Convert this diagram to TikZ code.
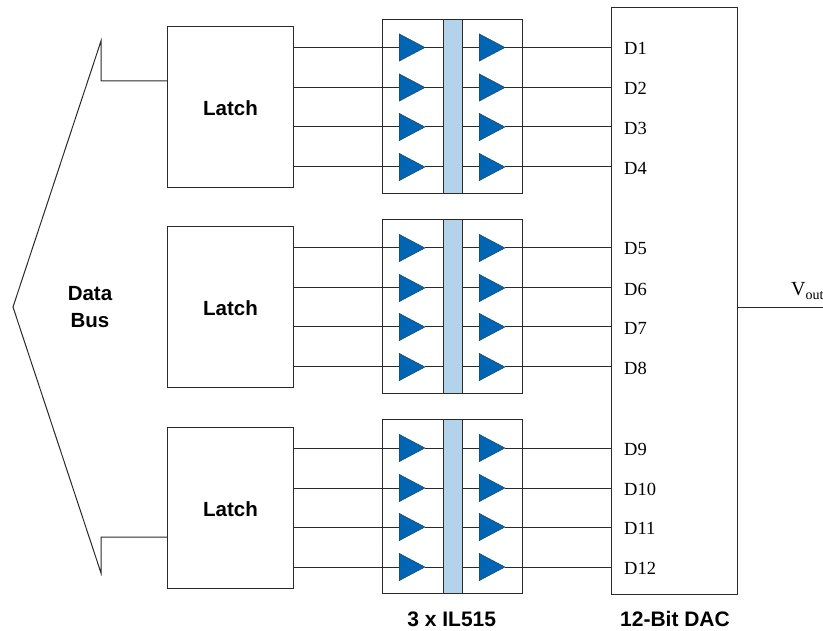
\documentclass[tikz,border=0pt]{standalone}
\usepackage{fontspec}
\setmainfont{Liberation Serif}
\setsansfont{Liberation Sans}
\usetikzlibrary{shapes.geometric}
\definecolor{buf}{HTML}{0066B3}
\definecolor{barc}{HTML}{B2D3EA}
\definecolor{ink}{HTML}{2A2A2A}
\tikzset{
  wire/.style={draw=ink,line width=1pt},
  block/.style={draw=ink,line width=1pt,fill=none,inner sep=0pt,rectangle,anchor=north west},
  barbox/.style={draw=ink,line width=1pt,fill=barc,inner sep=0pt,rectangle,anchor=north west,minimum width=19.5pt},
  buffer/.style={isosceles triangle,isosceles triangle apex angle=60,isosceles triangle stretches,
    minimum width=27.5pt,minimum height=26pt,inner sep=0pt,fill=buf,draw=ink,line width=0.25pt,anchor=west},
  boldlabel/.style={font=\sffamily\bfseries\fontsize{20.5}{26.5}\selectfont,inner sep=0pt,align=center},
  caplabel/.style={font=\sffamily\bfseries\fontsize{21}{24}\selectfont,inner sep=0pt},
  pinlabel/.style={font=\fontsize{18.5}{22}\selectfont,inner sep=0pt,anchor=west},
}
\begin{document}
\begin{tikzpicture}[x=1pt,y=-1pt]
\useasboundingbox (0,0) rectangle (823,631);
\node[block,minimum width=125.5pt,minimum height=587pt] (dac) at (611.2,7.2) {};
% block 1
\node[block,minimum width=126pt,minimum height=161pt] (latchA) at (167,26.5) {};
\node[boldlabel] (latchAt) at (230.5,108) {Latch};
\node[block,minimum width=140pt,minimum height=174pt] (ilA) at (382,18.7) {};
\node[barbox,minimum height=174pt] (barA) at (442.5,18.7) {};
% block 2
\node[block,minimum width=126pt,minimum height=161pt] (latchB) at (167,226.5) {};
\node[boldlabel] (latchBt) at (230.5,308) {Latch};
\node[block,minimum width=140pt,minimum height=174pt] (ilB) at (382,218.7) {};
\node[barbox,minimum height=174pt] (barB) at (442.5,218.7) {};
% block 3
\node[block,minimum width=126pt,minimum height=161pt] (latchC) at (167,427) {};
\node[boldlabel] (latchCt) at (230.5,509) {Latch};
\node[block,minimum width=140pt,minimum height=174pt] (ilC) at (382,419.2) {};
\node[barbox,minimum height=174pt] (barC) at (442.5,419.2) {};
% rows
\foreach \n/\y/\b in {1/47.5/A,2/87.5/A,3/127/A,4/167/A,
                      5/248/B,6/288/B,7/327/B,8/367/B,
                      9/448/C,10/488/C,11/527/C,12/567/C}{
  \node[buffer] (ti\n) at (399,\y) {};
  \node[buffer] (to\n) at (479,\y) {};
  \node[pinlabel] (d\n) at (624,\y+1) {D\n};
  \draw[wire] (latch\b.east |- ti\n.west) -- (ti\n.west);
  \draw[wire] (ti\n.apex) -- (ti\n.apex -| bar\b.west);
  \draw[wire] (to\n.west -| bar\b.east) -- (to\n.west);
  \draw[wire] (to\n.apex) -- (to\n.apex -| dac.west);
}
% data bus
\coordinate (busA) at (101,41);
\coordinate (busB) at (101,81);
\coordinate (busTip) at (13,307);
\coordinate (busC) at (101,573);
\coordinate (busD) at (101,537);
\draw[wire,line join=miter] (latchA.west |- busB) -- (busB) -- (busA) -- (busTip) -- (busC) -- (busD) -- (latchC.west |- busD);
\node[boldlabel] (bus) at (90,307) {Data\\Bus};
% output
\coordinate (vend) at (823,308);
\draw[wire] (dac.east |- vend) -- (vend);
\node[font=\fontsize{20}{22}\selectfont,inner sep=0pt,anchor=base west] (vout) at (791,296) {V\textsubscript{out}};
% captions
\node[caplabel] (capil) at (451.7,619) {3 x IL515};
\node[caplabel] (capdac) at (675,619) {12-Bit DAC};
\end{tikzpicture}
\end{document}
